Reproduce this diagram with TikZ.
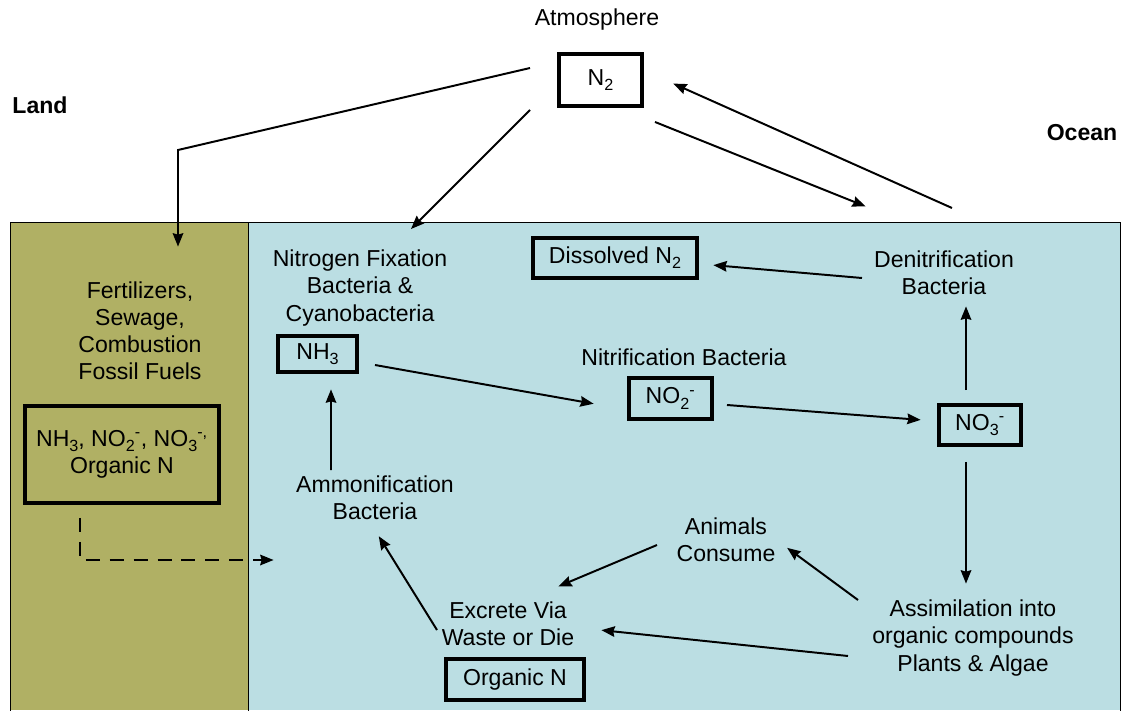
\documentclass[tikz,border=0pt]{standalone}
\usepackage{fontspec}
\setmainfont{Liberation Sans}
\usepackage{tikz}
\usetikzlibrary{arrows,arrows.meta,calc}
\tikzset{shorten >=1pt, >={Stealth[length=9.5pt, width=7.5pt, inset=1pt]}}
\definecolor{landcol}{RGB}{176,176,100}
\definecolor{seacol}{RGB}{187,222,227}
\tikzset{box/.style={draw, line width=2.8pt, inner sep=0pt}}
\newcommand{\lowsub}[1]{\raisebox{-0.42ex}{\fontsize{11.5}{11.5}\selectfont #1}}

\begin{document}
\begin{tikzpicture}[x=0.025cm, y=-0.025cm]
		\useasboundingbox (0,0) rectangle (1124,710);
		\fill[landcol] (10,222) rectangle (248,710);
		\fill[seacol] (248,222) rectangle (1120,710);
		\draw[line width=0.6pt] (10,712) -- (10,222) -- (1120,222) -- (1120,712);
		\draw[line width=0.6pt] (248,222) -- (248,712);

		\begin{scope}[every node/.append style={font=\fontsize{16.4}{19.3}\selectfont, align=center}]
			\node (0) at (597,20) {Atmosphere};
			\node[box, minimum width=2.075cm, minimum height=1.3cm] (1) at (600.5,80) {N\lowsub{2}};
			\node (2) at (40,105) {\bfseries Land};
			\node (3) at (1082,133) {\bfseries Ocean};
			\node (4) at (140,331) {Fertilizers,\\Sewage,\\Combustion\\Fossil Fuels};
			\node[box, minimum width=4.85cm, minimum height=2.425cm] (5) at (122,454.5) {NH\lowsub{3}, NO\lowsub{2}\textsuperscript{-}, NO\lowsub{3}\textsuperscript{-,}\\Organic N};
			\node (6) at (360,288) {Nitrogen Fixation\\Bacteria \&\\Cyanobacteria};
			\node[box, minimum width=1.975cm, minimum height=0.9cm] (7) at (317.5,354) {NH\lowsub{3}};
			\node (8) at (684,357) {Nitrification Bacteria};
			\node[box, minimum width=2.075cm, minimum height=1.025cm] (9) at (670.5,398.5) {NO\lowsub{2}\textsuperscript{-}};
			\node[box, minimum width=2.05cm, minimum height=1cm] (10) at (980,425) {NO\lowsub{3}\textsuperscript{-}};
			\node (11) at (944,273) {Denitrification\\Bacteria};
			\node[box, minimum width=4.1cm, minimum height=1cm] (12) at (615,258) {Dissolved N\lowsub{2}};
			\node (13) at (973,638) {Assimilation into\\organic compounds\\Plants \& Algae};
			\node (14) at (726,540) {Animals\\Consume};
			\node (15) at (508,624) {Excrete Via\\Waste or Die};
			\node[box, minimum width=3.45cm, minimum height=1.025cm] (16) at (515,679.5) {Organic N};
			\node (17) at (375,498) {Ammonification\\Bacteria};
		\end{scope}

		\begin{scope}[line width=1.4pt]
			\coordinate (b1) at (178,150);
			\draw [->] ([shift={(-27,-12)}]1.west) -- (b1) -- ([shift={(38,-83)}]4.center);
			\draw [->] ([shift={(-27,2)}]1.south west) -- ([shift={(50,-58)}]6.center);
			\draw [->] ([shift={(11,14)}]1.south east) -- ([shift={(-77,-66)}]11.center);
			\draw [->] ([shift={(8,-65)}]11.center) -- ([shift={(28,3)}]1.east);
			\coordinate (d1) at (80,560);
			\coordinate (d2) at (275,560);
			\draw [->, dashed, dash pattern=on 10pt off 7pt] ([shift={(-42,13)}]5.south) -- (d1) -- (d2);
			\draw [->] ([shift={(16,11)}]7.east) -- ([shift={(-32,5.5)}]9.west);
			\draw [->] ([shift={(13,6.5)}]9.east) -- ([shift={(-15,-5)}]10.west);
			\draw [->] ([shift={(-14,-13)}]10.north) -- ([shift={(22,32)}]11.center);
			\draw [->] ([shift={(-82,5)}]11.center) -- ([shift={(13,7)}]12.east);
			\draw [->] ([shift={(-14,15)}]10.south) -- ([shift={(-7,-53)}]13.center);
			\draw [->] ([shift={(-115,-38)}]13.center) -- ([shift={(60,7)}]14.center);
			\draw [->] ([shift={(-69,5)}]14.center) -- ([shift={(49,-37)}]15.center);
			\draw [->] ([shift={(-125,18)}]13.center) -- ([shift={(92,6)}]15.center);
			\draw [->] ([shift={(-71,6)}]15.center) -- ([shift={(3,37)}]17.center);
			\draw [->] ([shift={(-44,-28)}]17.center) -- ([shift={(13.5,14)}]7.south);
		\end{scope}
	\end{tikzpicture}
\end{document}
